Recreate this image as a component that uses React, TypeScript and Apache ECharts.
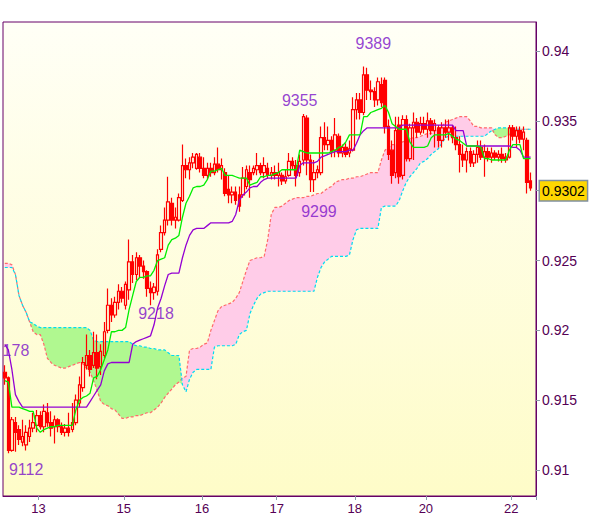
import React, { useEffect, useRef } from 'react';
import * as echarts from 'echarts';

// Prices in 1/10000 units (e.g. 9302 = 0.9302)
const open = [9170,9166,9114,9134,9129,9120,9118,9124,9130,9132, 9139,9131,9141,9134,9131,9136,9131,9127,9130,9129, 9134,9148,9159,9175,9182,9175,9184,9174,9182,9200, 9218,9211,9220,9228,9218,9229,9249,9240,9252,9246, 9242,9230,9227,9228,9258,9270,9279,9291,9279,9279, 9293,9318,9315,9320,9316,9324,9316,9311,9316,9313, 9319,9315,9313,9301,9297,9299,9297,9297,9303,9313, 9313,9315,9318,9313,9316,9311,9313,9311,9311,9307, 9311,9321,9318,9313,9322,9352,9322,9308,9313,9313, 9338,9333,9336,9329,9339,9327,9331,9327,9329,9358, 9365,9356,9383,9372,9371,9365,9376,9379,9346,9329, 9313,9347,9311,9351,9323,9345,9349,9342,9348,9344, 9350,9343,9345,9336,9345,9342,9345,9338,9333,9326, 9322,9328,9320,9326,9331,9324,9328,9324,9327,9324, 9326,9324,9324,9345,9339,9343,9337,9336,9307];
const close = [9166,9114,9136,9127,9122,9124,9127,9130,9134,9139, 9131,9142,9134,9130,9136,9131,9127,9130,9127,9134, 9150,9161,9177,9182,9172,9184,9173,9185,9199,9218, 9211,9220,9228,9223,9233,9249,9240,9252,9246,9242, 9230,9227,9231,9254,9270,9279,9292,9279,9281,9295, 9318,9315,9320,9324,9326,9316,9311,9316,9313,9319, 9315,9318,9298,9297,9299,9293,9289,9309,9315,9308, 9316,9318,9313,9318,9311,9313,9311,9313,9307,9310, 9321,9318,9311,9321,9353,9322,9308,9313,9315,9338, 9333,9336,9328,9340,9327,9331,9326,9330,9358,9365, 9356,9383,9372,9371,9365,9378,9363,9346,9326,9311, 9343,9310,9351,9323,9345,9349,9342,9348,9344,9350, 9343,9348,9336,9345,9342,9345,9338,9333,9326,9322, 9328,9320,9326,9331,9324,9328,9324,9327,9324,9326, 9323,9322,9345,9339,9343,9337,9342,9306,9302];
const low = [9161,9112,9113,9113,9118,9117,9114,9120,9127,9127, 9129,9127,9131,9124,9119,9127,9125,9124,9124,9127, 9132,9145,9156,9172,9167,9173,9165,9168,9180,9198, 9206,9209,9215,9220,9215,9222,9234,9236,9238,9237, 9224,9218,9222,9225,9256,9268,9275,9275,9273,9278, 9292,9309,9308,9316,9315,9313,9309,9308,9310,9311, 9313,9308,9296,9291,9291,9290,9285,9295,9301,9295, 9311,9311,9311,9309,9309,9308,9308,9303,9304,9305, 9310,9315,9303,9310,9318,9311,9299,9299,9309,9311, 9329,9329,9324,9324,9324,9324,9324,9324,9328,9351, 9351,9354,9365,9365,9360,9361,9360,9341,9322,9305, 9309,9305,9308,9321,9321,9322,9338,9340,9341,9338, 9340,9331,9331,9331,9338,9336,9334,9329,9313,9317, 9313,9317,9317,9320,9322,9310,9321,9320,9322,9321, 9320,9320,9323,9336,9331,9334,9329,9298,9300];
const high = [9175,9167,9138,9138,9132,9136,9132,9136,9141,9143, 9142,9147,9148,9142,9139,9137,9134,9133,9141,9148, 9154,9167,9181,9197,9186,9199,9197,9190,9206,9230, 9223,9224,9233,9231,9235,9265,9254,9256,9254,9250, 9243,9235,9234,9258,9275,9288,9310,9295,9288,9298, 9333,9323,9324,9327,9327,9327,9324,9320,9320,9324, 9331,9323,9316,9311,9303,9303,9303,9317,9318,9318, 9318,9327,9320,9324,9320,9317,9318,9320,9313,9315, 9327,9324,9322,9326,9355,9354,9326,9322,9318,9346, 9349,9346,9339,9352,9341,9333,9334,9336,9367,9370, 9370,9389,9388,9379,9374,9381,9381,9381,9351,9336, 9353,9353,9354,9354,9348,9356,9352,9353,9353,9356, 9352,9351,9347,9349,9351,9351,9347,9346,9339,9333, 9331,9331,9329,9336,9336,9333,9331,9331,9329,9329, 9331,9327,9347,9347,9346,9346,9346,9338,9313];

const tenkan = [9164,9163,9145,9145,9145,9144,9143,9142,9142,9130, 9127,9129,9130,9131,9131,9132,9132,9132,9132,9132, 9143,9150,9152,9153,9155,9166,9167,9172,9179,9186, 9199,9199,9200,9200,9202,9215,9225,9235,9238,9238, 9239,9239,9243,9250,9251,9252,9261,9265,9266,9268, 9281,9291,9296,9302,9303,9303,9304,9308,9314,9314, 9315,9316,9311,9311,9311,9310,9309,9309,9309,9304, 9305,9306,9310,9310,9311,9311,9312,9313,9315,9315, 9315,9315,9315,9329,9328,9327,9327,9327,9327,9327, 9327,9327,9328,9329,9331,9332,9335,9340,9340,9340, 9340,9353,9353,9356,9357,9358,9359,9361,9356,9348, 9346,9344,9344,9344,9335,9331,9331,9331,9331,9332, 9338,9340,9340,9340,9340,9341,9339,9337,9336,9334, 9332,9332,9332,9332,9331,9323,9323,9322,9322,9322, 9322,9322,9329,9333,9333,9333,9323,9323,9323];
const kijun = [9190,9186,9172,9154,9149,9145,9145,9145,9145,9145, 9145,9145,9145,9145,9145,9145,9145,9145,9145,9145, 9145,9145,9145,9145,9149,9153,9157,9161,9171,9176, 9177,9177,9177,9177,9177,9177,9190,9192,9193,9194, 9195,9196,9204,9216,9223,9232,9240,9241,9241,9241, 9252,9261,9268,9272,9273,9273,9273,9275,9277,9277, 9277,9277,9277,9277,9278,9283,9293,9297,9299,9302, 9303,9303,9306,9308,9309,9309,9309,9309,9309,9309, 9309,9309,9309,9318,9320,9320,9320,9320,9321,9324, 9325,9326,9327,9328,9328,9328,9328,9329,9329,9334, 9340,9343,9345,9345,9345,9345,9345,9345,9345,9345, 9345,9345,9347,9347,9347,9347,9347,9347,9347,9347, 9347,9347,9347,9347,9347,9347,9347,9343,9343,9343, 9332,9332,9332,9332,9332,9332,9332,9332,9332,9332, 9332,9332,9332,9331,9331,9329,9324,9324,9324];
const spanA = [9245,9245,9245,9240,9225,9218,9213,9206,9205,9203, 9202,9202,9202,9202,9202,9202,9202,9202,9202,9202, 9202,9202,9202,9202,9200,9193,9192,9192,9192,9192, 9192,9192,9192,9192,9192,9192,9190,9189,9189,9188, 9188,9187,9187,9186,9186,9186,9184,9182,9182,9182, 9161,9156,9165,9170,9172,9172,9172,9172,9172,9188, 9189,9189,9189,9189,9189,9190,9197,9199,9200,9212, 9218,9223,9226,9227,9228,9228,9228,9228,9228,9228, 9228,9228,9228,9228,9228,9228,9228,9228,9238,9245, 9249,9251,9253,9253,9253,9253,9253,9254,9265,9272, 9273,9273,9273,9273,9273,9273,9288,9289,9289,9289, 9289,9293,9300,9306,9310,9313,9316,9320,9321,9323, 9326,9328,9330,9334,9338,9339,9339,9339,9339,9339, 9339,9339,9339,9339,9339,9339,9341,9343,9344,9345, 9345,9345,9345,9344,9344,9344,9344,9344,9344];
const spanB = [9248,9248,9247,9240,9225,9218,9213,9206,9199,9197, 9197,9190,9180,9177,9175,9174,9173,9173,9174,9175, 9176,9177,9176,9173,9170,9164,9157,9149,9147,9146, 9144,9143,9140,9137,9137,9138,9138,9139,9139,9140, 9141,9141,9143,9145,9148,9152,9155,9158,9161,9163, 9166,9167,9186,9187,9187,9188,9190,9191,9200,9207, 9214,9217,9218,9219,9220,9223,9227,9235,9243,9250, 9251,9252,9252,9253,9265,9283,9288,9288,9289,9291, 9293,9294,9295,9295,9295,9296,9296,9297,9298,9298, 9300,9302,9303,9306,9307,9308,9308,9309,9309,9310, 9310,9311,9312,9313,9313,9313,9322,9329,9331,9333, 9333,9334,9335,9336,9337,9338,9338,9339,9340,9341, 9341,9343,9344,9346,9349,9350,9351,9352,9353,9353, 9353,9350,9346,9346,9345,9345,9345,9345,9340,9338, 9338,9339,9340,9343,9344,9344,9344,9344,9344];

const dayLabels = ['13', '15', '16', '17', '18', '20', '22'];
const dayStartIdx = [10, 34, 56, 77, 99, 119, 143];
const yTicks = [0.91, 0.915, 0.92, 0.925, 0.93, 0.935, 0.94];
// 0.93 sits under the current-price box, as in the reference
const yTickLabels = [0.91, 0.915, 0.92, 0.925, 0.935, 0.94];

const peakIdx = [104, 83, 88, 42, 6, 3];
const peakPrice = [9389, 9355, 9299, 9218, 9112, 9178];
const peakText = ['9389', '9355', '9299', '9218', '9112', '178'];

const SLOTS = 150;
const Y_MIN = 0.90814;
const Y_MAX = 0.94208;
const FONT = "'Liberation Sans', Arial, sans-serif";

const sc = (v: number) => v / 10000;

export default function App() {
  const ref = useRef<HTMLDivElement>(null);
  useEffect(() => {
    const chart = echarts.init(ref.current!, null, { renderer: 'svg' });
    const cats = Array.from({ length: SLOTS }, (_, i) => String(i));
    const candles = open.map((o, i) => [sc(o), sc(close[i]), sc(low[i]), sc(high[i])]);
    const base = spanA.map((a, i) => sc(Math.min(a, spanB[i])));
    const greenPart = spanA.map((a, i) => sc(Math.max(a - spanB[i], 0)));
    const pinkPart = spanA.map((a, i) => sc(Math.max(spanB[i] - a, 0)));
    const lastClose = sc(close[close.length - 1]);
    const labelOffsets = [[-1, -23], [0, -13], [1.5, 19], [2, 8], [0, 16], [0.5, -11]];
    const isDay = (idx: number) => dayStartIdx.includes(idx);

    const option: any = {
      animation: false,
      backgroundColor: '#ffffff',
      textStyle: { fontFamily: FONT },
      grid: {
        left: 3, top: 22, width: 533, height: 474,
        show: true, borderColor: '#660066', borderWidth: 1,
        backgroundColor: new echarts.graphic.LinearGradient(0, 0, 0, 1, [
          { offset: 0, color: '#fffff6' },
          { offset: 1, color: '#fefcc8' },
        ]),
        outerBoundsMode: 'none',
      },
      xAxis: {
        type: 'category', data: cats, boundaryGap: true,
        axisLine: { show: true, lineStyle: { color: '#660066', width: 1 } },
        axisTick: { show: true, interval: (i: number) => isDay(i), length: 4, lineStyle: { color: '#8a9aaa' } },
        axisLabel: {
          interval: (i: number) => isDay(i),
          formatter: (_v: string, i: number) => { const k = dayStartIdx.indexOf(i); return k >= 0 ? dayLabels[k] : ''; },
          color: '#550055', fontSize: 13, fontFamily: FONT, margin: 6, padding: [0, 3.5, 0, 0],
        },
        splitLine: { show: false },
      },
      yAxis: {
        type: 'value', position: 'right', min: Y_MIN, max: Y_MAX, scale: true,
        axisLine: { show: true, lineStyle: { color: '#660066', width: 1 } },
        axisTick: { show: true, length: 4, lineStyle: { color: '#8a9aaa' }, customValues: yTicks },
        axisLabel: {
          customValues: yTickLabels, color: '#550055', fontSize: 14, fontFamily: FONT, margin: 6,
          formatter: (v: number) => String(parseFloat(v.toFixed(4))),
        },
        splitLine: { show: false },
      },
      series: [
        { type: 'line', name: 'base', stack: 'cloud', data: base, symbol: 'none', lineStyle: { width: 0, opacity: 0 }, silent: true, z: 1 },
        { type: 'line', name: 'green', stack: 'cloud', data: greenPart, symbol: 'none', lineStyle: { width: 0, opacity: 0 }, areaStyle: { color: '#b0f890', opacity: 1 }, silent: true, z: 1 },
        { type: 'line', name: 'pink', stack: 'cloud', data: pinkPart, symbol: 'none', lineStyle: { width: 0, opacity: 0 }, areaStyle: { color: '#ffcce8', opacity: 1 }, silent: true, z: 1 },
        { type: 'line', name: 'spanB', data: spanB.map(sc), symbol: 'none', lineStyle: { color: '#ff6a6a', width: 1.2, type: [3, 2] }, silent: true, z: 2 },
        { type: 'line', name: 'spanA', data: spanA.map(sc), symbol: 'none', lineStyle: { color: '#00dcf0', width: 1.2, type: [3, 2] }, silent: true, z: 2 },
        {
          type: 'candlestick', name: 'price', data: candles, barWidth: 3, clip: false, z: 3,
          itemStyle: { color: 'rgba(255,255,255,0)', color0: '#ff0000', borderColor: '#ff0000', borderColor0: '#ff0000', borderWidth: 1.2 },
          markLine: {
            silent: true, symbol: ['none', 'none'], animation: false,
            data: [{ yAxis: lastClose }],
            lineStyle: { color: 'rgba(0,0,0,0)', width: 0 },
            label: {
              show: true, position: 'end', distance: 4, formatter: lastClose.toFixed(4),
              backgroundColor: '#ffd700', borderColor: '#8090a0', borderWidth: 1.5,
              padding: [3, 2, 2, 2], color: '#000000', fontSize: 14, fontFamily: FONT,
            },
          },
        },
        { type: 'line', name: 'kijun', data: kijun.map(sc), symbol: 'none', lineStyle: { color: '#9400d3', width: 1.3 }, silent: true, z: 4 },
        { type: 'line', name: 'tenkan', data: tenkan.map(sc), symbol: 'none', lineStyle: { color: '#00ee00', width: 1.3 }, silent: true, z: 4 },
        {
          type: 'scatter', name: 'peaks', symbolSize: 0, silent: true, z: 6,
          data: peakIdx.map((ix, k) => ({
            value: [ix, sc(peakPrice[k])],
            label: {
              show: true, position: 'inside', formatter: peakText[k], offset: labelOffsets[k],
              color: '#7a10c8', fontSize: 16, fontFamily: FONT,
            },
          })),
        },
      ],
    };
    chart.setOption(option);
    return () => chart.dispose();
  }, []);
  return <div ref={ref} style={{ position: 'fixed', left: 0, top: 0, width: 600, height: 519 }} />;
}
